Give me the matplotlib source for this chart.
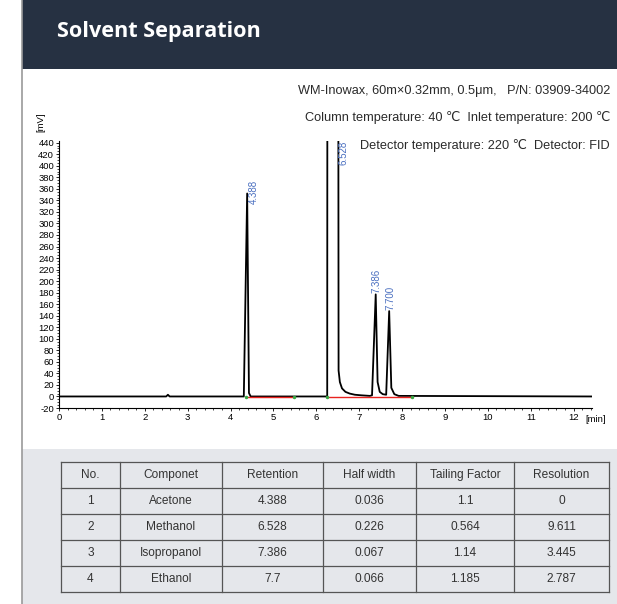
import matplotlib.pyplot as plt
from matplotlib.patches import Rectangle
from matplotlib.lines import Line2D
from matplotlib.ticker import MultipleLocator

# chromatogram trace (time in min, signal in mV)
trace_time = [0, 2.50, 2.54, 2.58, 4.31, 4.388, 4.43, 4.47,
              6.255, 6.27, 6.49, 6.52, 6.55, 6.60, 6.68, 6.78, 6.90, 7.05, 7.25,
              7.30, 7.386, 7.43, 7.48, 7.55, 7.63, 7.70, 7.75, 7.82, 7.92, 12.42]
trace_signal = [0, 0, 3, 0, 0, 352, 6, 0,
                0, 2500, 2500, 45, 25, 14, 8, 5, 3, 2, 1,
                2, 177, 25, 8, 4, 3, 148, 15, 4, 1, 0]

peak_rt = [4.388, 6.528, 7.386, 7.700]
peak_text = ['4.388', '6.528', '7.386', '7.700']
peak_top = [352, 443, 177, 148]

base_start = [4.35, 6.25]
base_end = [5.47, 8.23]

col_names = ['No.', 'Componet', 'Retention', 'Half width', 'Tailing Factor', 'Resolution']
nos = ['1', '2', '3', '4']
components = ['Acetone', 'Methanol', 'Isopropanol', 'Ethanol']
retention = ['4.388', '6.528', '7.386', '7.7']
half_width = ['0.036', '0.226', '0.067', '0.066']
tailing = ['1.1', '0.564', '1.14', '1.185']
resolution = ['0', '9.611', '3.445', '2.787']

info_lines = ['WM-Inowax, 60m\u00d70.32mm, 0.5\u03bcm,   P/N: 03909-34002',
              'Column temperature: 40 \u2103  Inlet temperature: 200 \u2103',
              'Detector temperature: 220 \u2103  Detector: FID']

W, H = 617, 604
plt.rcParams['font.family'] = ['Liberation Sans', 'DejaVu Sans']
plt.rcParams['axes.unicode_minus'] = False

fig = plt.figure(figsize=(W / 100, H / 100), dpi=100)


def fx(px):
    return px / W


def fy(py):
    return 1 - py / H


# card background pieces (kept behind the axes)
fig.add_artist(Rectangle((fx(22), fy(69)), 1, 69 / H, transform=fig.transFigure,
                         color='#263142', lw=0, zorder=-5))
fig.add_artist(Rectangle((fx(22), 0), 1, fy(449), transform=fig.transFigure,
                         color='#e5e7eb', lw=0, zorder=-5))
fig.add_artist(Line2D([fx(21.5), fx(21.5)], [0, 1], transform=fig.transFigure,
                      color='#9a9a9a', lw=1.2, zorder=-4))
fig.text(fx(57), fy(32), 'Solvent Separation', color='white', fontsize=15.6,
         fontweight='bold', family=['Open Sans', 'DejaVu Sans'], va='center', ha='left')

# chromatogram
ax = fig.add_axes([fx(59), fy(408), (592 - 59) / W, (408 - 141) / H])
ax.plot(trace_time, trace_signal, color='black', lw=1.3, zorder=3)
for s, e in zip(base_start, base_end):
    ax.plot([s, e], [-1.2, -1.2], color='#e8231f', lw=1.0, zorder=4)
    ax.plot([s, e], [-1.2, -1.2], 'o', color='#3aa845', ms=1.5, zorder=5)

label_dx = [0.15, 0.10, 0.02, 0.02]
label_dy = [-18, 0, 2, 2]
label_va = ['bottom', 'top', 'bottom', 'bottom']
for rt, txt, top, dx, dy, va in zip(peak_rt, peak_text, peak_top, label_dx, label_dy, label_va):
    ax.text(rt + dx, top + dy, txt, rotation=90, color='#4a6fc0', fontsize=7,
            ha='center', va=va)

ax.set_xlim(0, 12.43)
ax.set_ylim(-20, 443)
ax.set_xticks(range(0, 13))
ax.set_yticks(range(-20, 441, 20))
ax.xaxis.set_minor_locator(MultipleLocator(0.2))
ax.yaxis.set_minor_locator(MultipleLocator(5))
ax.tick_params(labelsize=6.8, length=2.5, width=0.6, pad=1)
ax.tick_params(which='minor', length=1.5, width=0.5)
for side in ['top', 'right']:
    ax.spines[side].set_visible(False)
for side in ['left', 'bottom']:
    ax.spines[side].set_linewidth(0.8)
ax.patch.set_alpha(0)

fig.text(fx(596), fy(420), '[min]', fontsize=6.8, ha='center', va='center')
fig.text(fx(41), fy(122), '[mV]', fontsize=6.8, rotation=90, ha='center', va='center')

info_y = [91, 118, 145]
for line, y in zip(info_lines, info_y):
    fig.text(fx(610), fy(y), line, fontsize=9.2, ha='right', va='center',
             family=['Liberation Sans Narrow', 'Liberation Sans', 'DejaVu Sans'],
             color='#2a2a2a')

# results table
tax = fig.add_axes([fx(61), fy(592), (609 - 61) / W, (592 - 462) / H])
tax.set_xlim(61, 609)
tax.set_ylim(592, 462)
tax.axis('off')
col_x = [61, 120, 222, 323, 416, 514, 609]
n_rows = 5
row_h = (592 - 462) / n_rows
for x in col_x:
    tax.plot([x, x], [462, 592], color='#555555', lw=0.9, clip_on=False)
for i in range(n_rows + 1):
    y = 462 + i * row_h
    tax.plot([61, 609], [y, y], color='#555555', lw=0.9, clip_on=False)

rows = [col_names] + [list(r) for r in zip(nos, components, retention, half_width, tailing, resolution)]
for i, r in enumerate(rows):
    yc = 462 + (i + 0.5) * row_h
    for j, cell in enumerate(r):
        xc = (col_x[j] + col_x[j + 1]) / 2
        tax.text(xc, yc, cell, fontsize=8.6, ha='center', va='center', color='#333333')

fig.savefig('out.png', dpi=100)
